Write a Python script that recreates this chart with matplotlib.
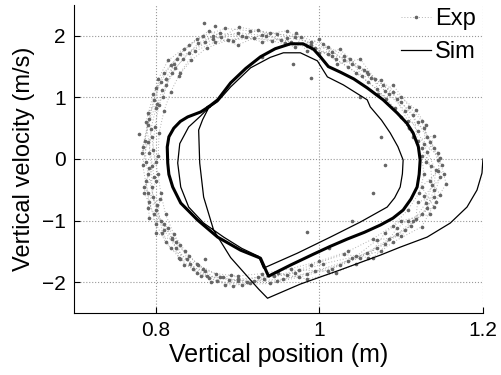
import matplotlib.pyplot as plt

plt.rcParams['font.family'] = ['Liberation Sans', 'DejaVu Sans']

exp_x = [
    0.788, 0.787, 0.792, 0.798, 0.806, 0.818, 0.835, 0.858, 0.885, 0.915, 0.948, 0.978, 1.005, 1.030,
    1.055, 1.078, 1.100, 1.120, 1.135, 1.145, 1.147, 1.140, 1.125, 1.105, 1.080, 1.050, 1.015, 0.975,
    0.940, 0.905, 0.875, 0.850, 0.830, 0.812, 0.800, 0.792, 0.788,
    0.803, 0.804, 0.810, 0.818, 0.828, 0.843, 0.862, 0.888, 0.920, 0.953, 0.985, 1.010, 1.035, 1.060,
    1.082, 1.100, 1.115, 1.125, 1.128, 1.122, 1.108, 1.090, 1.065, 1.035, 1.000, 0.965, 0.930, 0.900,
    0.873, 0.852, 0.836, 0.822, 0.812, 0.806, 0.803,
    0.796, 0.799, 0.804, 0.813, 0.824, 0.840, 0.870, 0.900, 0.935, 0.965, 0.995, 1.020, 1.045, 1.070,
    1.092, 1.110, 1.125, 1.136, 1.138, 1.130, 1.115, 1.095, 1.070, 1.035, 0.995, 0.955, 0.920, 0.890,
    0.862, 0.842, 0.825, 0.810, 0.800, 0.795, 0.795,
    0.792, 0.794, 0.800, 0.808, 0.820, 0.833, 0.852, 0.878, 0.905, 0.930, 0.960, 0.990, 1.015, 1.040,
    1.063, 1.085, 1.105, 1.120, 1.132, 1.142, 1.140, 1.132, 1.112, 1.085, 1.058, 1.025, 0.985, 0.948,
    0.912, 0.882, 0.858, 0.840, 0.820, 0.806, 0.797, 0.791,
    0.784, 0.790, 0.801, 0.803, 0.815, 0.840, 0.865, 0.895, 0.925, 0.958, 0.972, 1.000, 1.025, 1.048,
    1.060, 1.090, 1.108, 1.128, 1.140, 1.150, 1.135, 1.148, 1.120, 1.118, 1.100, 1.070, 1.045, 1.005,
    0.970, 0.932, 0.895, 0.865, 0.845, 0.830, 0.815, 0.798, 0.786, 0.792,
    0.800, 0.790, 0.809, 0.822, 0.830, 0.848, 0.872, 0.910, 0.942, 0.970, 1.000, 1.022, 1.050, 1.068,
    1.072, 1.095, 1.115, 1.120, 1.140, 1.130, 1.152, 1.128, 1.135, 1.100, 1.080, 1.060, 1.030, 0.990,
    0.960, 0.925, 0.900, 0.878, 0.855, 0.838, 0.818, 0.808, 0.802, 0.785, 0.798,
    0.788, 0.797, 0.810, 0.830, 0.850, 0.880, 0.902, 0.940, 0.970, 0.985, 1.010, 1.030, 1.058, 1.080,
    1.090, 1.110, 1.125, 1.132, 1.145, 1.155, 1.142, 1.125, 1.090, 1.065, 1.045, 1.020, 0.985, 0.950,
    0.915, 0.892, 0.868, 0.850, 0.828, 0.820, 0.810, 0.792, 0.790, 0.784, 0.790,
    0.795, 0.783, 0.800, 0.812, 0.826, 0.860, 0.870, 0.900, 0.930, 0.960, 0.990, 1.015, 1.038, 1.052,
    1.075, 1.100, 1.118, 1.130, 1.128, 1.148, 1.145, 1.125, 1.140, 1.108, 1.095, 1.075, 1.040, 1.010,
    0.975, 0.945, 0.900, 0.885, 0.860, 0.835, 0.825, 0.800, 0.805, 0.790, 0.800,
]
exp_y = [
    -0.05, 0.30, 0.65, 0.95, 1.25, 1.52, 1.78, 2.00, 2.12, 2.08, 2.03, 1.98, 1.86, 1.68,
    1.45, 1.20, 0.92, 0.60, 0.28, -0.02, -0.30, -0.62, -0.90, -1.15, -1.38, -1.60, -1.78, -1.92,
    -2.02, -2.04, -1.98, -1.85, -1.62, -1.35, -1.05, -0.70, -0.35,
    0.05, 0.42, 0.78, 1.08, 1.35, 1.60, 1.80, 1.93, 1.96, 1.93, 1.84, 1.70, 1.50, 1.25,
    0.98, 0.68, 0.36, 0.05, -0.25, -0.55, -0.83, -1.08, -1.30, -1.50, -1.66, -1.78, -1.86, -1.90,
    -1.86, -1.72, -1.50, -1.22, -0.90, -0.55, -0.25,
    0.15, 0.52, 0.88, 1.20, 1.47, 1.72, 1.95, 2.05, 2.00, 1.90, 1.80, 1.62, 1.40, 1.14,
    0.82, 0.50, 0.18, -0.12, -0.42, -0.72, -1.00, -1.22, -1.45, -1.65, -1.82, -1.95, -1.98, -1.96,
    -1.90, -1.70, -1.45, -1.15, -0.82, -0.45, -0.12,
    0.10, 0.48, 0.82, 1.12, 1.40, 1.62, 1.88, 2.04, 2.00, 1.90, 1.97, 1.90, 1.74, 1.55,
    1.32, 1.05, 0.78, 0.45, 0.12, -0.18, -0.50, -0.80, -1.08, -1.30, -1.52, -1.72, -1.86, -1.98,
    -2.00, -1.92, -1.78, -1.58, -1.30, -1.00, -0.62, -0.25,
    0.20, 0.55, 0.90, 1.30, 1.60, 1.85, 2.08, 1.92, 2.10, 1.88, 2.05, 1.72, 1.78, 1.50,
    1.38, 1.08, 0.62, 0.50, 0.18, -0.10, -0.35, -0.58, -0.70, -0.98, -1.25, -1.32, -1.58, -1.70,
    -1.85, -1.94, -2.06, -1.93, -1.78, -1.40, -1.12, -0.90, -0.55, -0.15,
    -0.05, 0.75, 1.00, 1.55, 1.40, 1.75, 1.90, 1.98, 1.92, 1.82, 1.94, 1.55, 1.62, 1.30,
    1.05, 0.98, 0.72, 0.30, 0.38, -0.05, -0.25, -0.60, -0.90, -1.00, -1.20, -1.60, -1.55, -1.72,
    -1.88, -1.92, -1.98, -1.92, -1.90, -1.62, -1.45, -1.20, -0.75, -0.45, -0.30,
    0.60, 1.05, 1.40, 1.70, 1.95, 1.98, 2.14, 2.05, 1.98, 1.75, 1.82, 1.60, 1.42, 1.10,
    1.20, 0.85, 0.62, 0.35, 0.10, -0.40, -0.70, -1.10, -1.35, -1.60, -1.70, -1.85, -1.95, -1.85,
    -2.02, -1.88, -2.00, -1.70, -1.60, -1.28, -1.05, -0.95, -0.55, -0.10, 0.28,
    0.35, 0.10, 1.15, 1.30, 1.62, 1.90, 2.00, 1.85, 2.02, 2.08, 1.85, 1.68, 1.62, 1.35,
    1.28, 1.00, 0.80, 0.55, 0.25, 0.02, -0.20, -0.45, -0.78, -1.00, -1.12, -1.50, -1.60, -1.82,
    -1.80, -1.90, -1.95, -2.05, -1.82, -1.72, -1.35, -1.20, -0.65, -0.80, -0.35,
]

# stray experimental points away from the band
stray_x = [1.075, 1.080, 1.066, 0.990, 1.050, 1.040, 0.985, 0.860, 0.930, 0.779, 0.859, 0.872, 1.012, 0.968]
stray_y = [0.36, -0.10, -0.55, 1.32, 1.00, -1.00, -1.18, -1.62, 1.65, 0.40, 2.21, 2.16, -1.45, 1.55]

# Simulation: transient cycles
sim_x = [
    1.200, 1.1988, 1.1927, 1.1805, 1.160, 1.1317, 1.0988, 1.0744, 1.0256, 0.9768, 0.9366,
    0.9256, 0.8915, 0.8707, 0.8585, 0.8537, 0.8524, 0.8573, 0.8646,
    0.8756, 0.8915, 0.9159, 0.940, 0.956, 0.9768, 0.9976, 1.0098, 1.0293, 1.0585,
    1.0622, 1.0760, 1.0866, 1.0960, 1.1024, 1.1015, 1.0988, 1.0920, 1.0829, 1.050, 1.0134,
    0.9732, 0.9317,
    0.9256, 0.905, 0.883, 0.8585, 0.8402, 0.8305, 0.8268, 0.8293, 0.8402, 0.8549, 0.8646,
]
sim_y = [
    0.00, -0.228, -0.504, -0.78, -1.04, -1.268, -1.431, -1.561, -1.80, -2.03, -2.26,
    -2.11, -1.60, -1.154, -0.618, -0.065, 0.47, 0.64, 0.83,
    0.93, 1.17, 1.48, 1.65, 1.724, 1.724, 1.593, 1.333, 1.203, 0.96,
    0.846, 0.63, 0.423, 0.20, -0.016, -0.24, -0.455, -0.63, -0.78, -1.024, -1.268,
    -1.528, -1.772,
    -1.58, -1.45, -1.268, -1.04, -0.78, -0.455, -0.065, 0.25, 0.52, 0.70, 0.83,
]

# Simulation: settled limit cycle
cyc_x = [
    0.8646, 0.8756, 0.8915, 0.910, 0.928, 0.946, 0.9646, 0.980, 0.993, 1.0012, 1.011, 1.0256,
    1.042, 1.0585, 1.078, 1.095, 1.107, 1.1146, 1.121, 1.1232, 1.122, 1.1195, 1.112, 1.1024,
    1.090, 1.0744, 1.055, 1.034, 1.013, 0.9927, 0.965, 0.9378, 0.928, 0.9037, 0.8756, 0.8512,
    0.8305, 0.8207, 0.8160, 0.8146, 0.8140, 0.8160, 0.822, 0.830, 0.839, 0.855, 0.8646,
]
cyc_y = [
    0.846, 0.959, 1.236, 1.47, 1.659, 1.79, 1.87, 1.87, 1.78, 1.659, 1.50, 1.41,
    1.30, 1.154, 0.96, 0.748, 0.58, 0.423, 0.20, -0.016, -0.25, -0.455, -0.65, -0.829,
    -0.96, -1.073, -1.19, -1.30, -1.42, -1.545, -1.72, -1.902, -1.61, -1.48, -1.268, -0.992,
    -0.715, -0.455, -0.25, -0.065, 0.195, 0.36, 0.50, 0.61, 0.683, 0.764, 0.846,
]

fig = plt.figure(figsize=(5.01, 3.75), dpi=100)
ax = fig.add_axes([0.1477, 0.1653, 0.8163, 0.8214])

ax.plot(exp_x, exp_y, linestyle=(0, (1, 2)), color='0.7', lw=0.7, marker='.', ms=3.2,
        mfc='0.4', mec='0.4', label='Exp')
ax.plot(stray_x, stray_y, '.', color='0.4', ms=3.2)
ax.plot(sim_x, sim_y, '-', color='k', lw=0.9, label='Sim')
ax.plot(cyc_x, cyc_y, '-', color='k', lw=2.2)

ax.set_xlim(0.7, 1.2)
ax.set_ylim(-2.5, 2.5)
ax.set_xticks([0.8, 1.0, 1.2])
ax.set_xticklabels(['0.8', '1', '1.2'])
ax.set_yticks([-2, -1, 0, 1, 2])
ax.grid(True, linestyle=':', color='0.6', lw=0.8)
ax.spines['top'].set_visible(False)
ax.spines['right'].set_visible(False)
ax.tick_params(direction='in', length=4, labelsize=15, pad=6)

ax.set_xlabel('Vertical position (m)', fontsize=18, labelpad=2)
ax.set_ylabel('Vertical velocity (m/s)', fontsize=17, labelpad=5)

ax.legend(loc='upper right', frameon=False, fontsize=17, handlelength=1.3,
          handletextpad=0.15, labelspacing=0.45, borderaxespad=0.0,
          bbox_to_anchor=(1.005, 1.02))

fig.savefig('out.png', dpi=100)
